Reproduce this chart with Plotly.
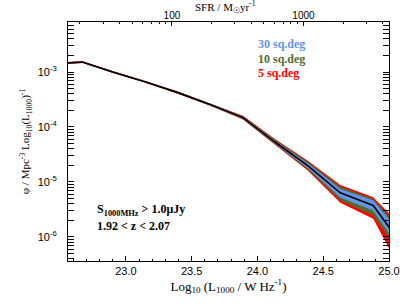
import numpy as np
import plotly.graph_objects as go

# ---- data ----
log_L = [22.42, 22.67, 22.90, 23.15, 23.40, 23.65, 23.89, 24.13, 24.38, 24.63, 24.88, 25.13]
log_phi = [-2.85, -2.82, -3.00, -3.18, -3.38, -3.60, -3.83, -4.27, -4.70, -5.20, -5.43, -6.25]

# band half-widths in dex (upper / lower) for each survey area
up_30 = [0.008, 0.008, 0.008, 0.008, 0.009, 0.011, 0.015, 0.025, 0.045, 0.07, 0.09, 0.20]
dn_30 = [0.008, 0.008, 0.008, 0.008, 0.009, 0.011, 0.015, 0.025, 0.045, 0.085, 0.09, 0.13]
up_10 = [0.012, 0.012, 0.012, 0.012, 0.014, 0.018, 0.025, 0.04, 0.07, 0.11, 0.12, 0.29]
dn_10 = [0.012, 0.012, 0.012, 0.012, 0.014, 0.018, 0.025, 0.04, 0.07, 0.14, 0.18, 0.22]
up_5 = [0.016, 0.016, 0.016, 0.017, 0.02, 0.025, 0.035, 0.055, 0.09, 0.145, 0.15, 0.36]
dn_5 = [0.016, 0.016, 0.016, 0.017, 0.02, 0.025, 0.035, 0.055, 0.09, 0.18, 0.24, 0.54]

area_labels = ["30 sq.deg", "10 sq.deg", "5 sq.deg"]
area_colors = ["#6495ED", "#556B2F", "#FF0000"]

x_ticks = [23.0, 23.5, 24.0, 24.5, 25.0]
y_tick_exps = [-6, -5, -4, -3]
sfr_ticks = [100, 1000]
SFR_CONV = -21.35  # log10(SFR) = log10(L) + SFR_CONV

x_range = [22.56, 25.0]
y_range = [-6.44, -2.09]

L = np.array(log_L)
phi = 10 ** np.array(log_phi)

fig = go.Figure()

bands = [(up_5, dn_5, area_colors[2]), (up_10, dn_10, area_colors[1]), (up_30, dn_30, area_colors[0])]
for up, dn, col in bands:
    hi = phi * 10 ** np.array(up)
    lo = phi / 10 ** np.array(dn)
    fig.add_trace(go.Scatter(x=L, y=hi, mode="lines", line=dict(width=0, color=col),
                             showlegend=False, hoverinfo="skip"))
    fig.add_trace(go.Scatter(x=L, y=lo, mode="lines", line=dict(width=0, color=col),
                             fill="tonexty", fillcolor=col, showlegend=False, hoverinfo="skip"))

fig.add_trace(go.Scatter(x=L, y=phi, mode="lines", line=dict(color="black", width=1.6),
                         showlegend=False))

# invisible trace to activate the top SFR axis
fig.add_trace(go.Scatter(x=[10 ** (x_range[0] + SFR_CONV), 10 ** (x_range[1] + SFR_CONV)],
                         y=[1e-9, 1e-9], xaxis="x2", mode="markers",
                         marker=dict(opacity=0), showlegend=False, hoverinfo="skip"))

sans = "Liberation Sans, Arial, sans-serif"
serif = "Liberation Serif, Times New Roman, serif"

minor_y = [k * 10.0 ** e for e in range(-7, -1) for k in range(2, 10)]
minor_sfr = [k * 10.0 ** e for e in range(1, 4) for k in range(2, 10)]

fig.update_layout(
    width=409, height=307,
    margin=dict(l=68, r=20, t=22, b=46, autoexpand=False),
    paper_bgcolor="white", plot_bgcolor="white",
    showlegend=False,
    xaxis=dict(
        range=x_range, tickvals=x_ticks, ticktext=[f"{v:.1f}" for v in x_ticks],
        ticks="inside", ticklen=5, tickwidth=1, tickcolor="black",
        minor=dict(dtick=0.1, ticks="inside", ticklen=2.5, tickcolor="black"),
        showline=True, linecolor="black", linewidth=1, mirror=True,
        showgrid=False, zeroline=False, automargin=False,
        tickfont=dict(family=sans, size=11, color="black"),
        title=dict(text="Log<sub>10</sub> (L<sub>1000</sub> / W Hz<sup>-1</sup>)",
                   font=dict(family=serif, size=13, color="black"), standoff=3),
    ),
    xaxis2=dict(
        type="log", overlaying="x", side="top", anchor="y",
        range=[x_range[0] + SFR_CONV, x_range[1] + SFR_CONV],
        tickvals=sfr_ticks, ticktext=[str(v) for v in sfr_ticks],
        ticks="inside", ticklen=4, tickwidth=1, tickcolor="black",
        minor=dict(tickvals=minor_sfr, ticks="inside", ticklen=2, tickcolor="black"),
        showgrid=False, zeroline=False, showline=False, automargin=False,
        tickfont=dict(family=sans, size=10, color="black"),
    ),
    yaxis=dict(
        type="log", range=y_range,
        tickvals=[10.0 ** e for e in y_tick_exps],
        ticktext=[f"10<sup>{e}</sup>" for e in y_tick_exps],
        ticks="inside", ticklen=6, tickwidth=1, tickcolor="black",
        minor=dict(tickvals=minor_y, ticks="inside", ticklen=3, tickcolor="black"),
        showline=True, linecolor="black", linewidth=1, mirror="allticks",
        showgrid=False, zeroline=False, ticklabelstandoff=8, automargin=False,
        tickfont=dict(family=sans, size=11, color="black"),
        title=dict(text="φ / Mpc<sup>-3</sup> Log<sub>10</sub>(L<sub>1000</sub>)<sup>-1</sup>",
                   font=dict(family=serif, size=11, color="black"), standoff=5),
    ),
)

ann = []
for i, (lab, col) in enumerate(zip(area_labels, area_colors)):
    ann.append(dict(text=f"<b>{lab}</b>", x=0.585, y=0.908 - i * 0.061, xref="paper", yref="paper",
                    xanchor="left", yanchor="middle", showarrow=False,
                    font=dict(family=serif, size=12, color=col)))
ann.append(dict(text="<b>S<sub>1000MHz</sub> > 1.0μJy</b>", x=0.085, y=0.212, xref="paper", yref="paper",
                xanchor="left", yanchor="middle", showarrow=False,
                font=dict(family=serif, size=12, color="black")))
ann.append(dict(text="<b>1.92 < z < 2.07</b>", x=0.085, y=0.148, xref="paper", yref="paper",
                xanchor="left", yanchor="middle", showarrow=False,
                font=dict(family=serif, size=12, color="black")))
ann.append(dict(text="SFR / M<sub>☉</sub>yr<sup>-1</sup>", x=0.49, y=1.063, xref="paper", yref="paper",
                xanchor="center", yanchor="middle", showarrow=False,
                font=dict(family=serif, size=11, color="black")))
fig.update_layout(annotations=ann)

fig.write_html("out.html", config={"displayModeBar": False},
               post_script="document.body.style.margin='0';document.body.style.overflow='hidden';")
